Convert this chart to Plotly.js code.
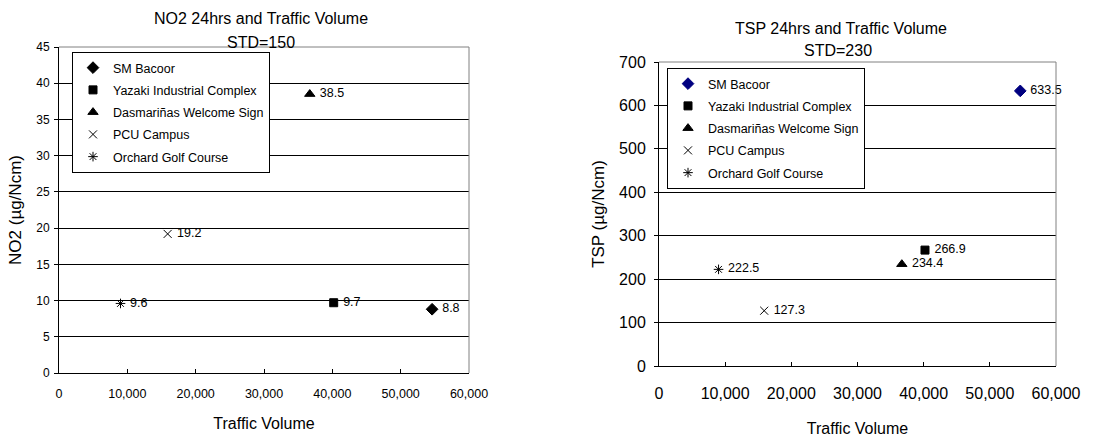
<!DOCTYPE html>
<html>
<head>
<meta charset="utf-8">
<script src="https://cdn.plot.ly/plotly-3.0.1.min.js"></script>
<style>html,body{margin:0;padding:0;background:#fff}#chart{width:1120px;height:437px}</style>
</head>
<body>
<div id="chart"></div>
<script>
const sites = ['SM Bacoor', 'Yazaki Industrial Complex', 'Dasmariñas Welcome Sign', 'PCU Campus', 'Orchard Golf Course'];
const trafficVolume = [54600, 40200, 36700, 15900, 9000];
const no2Values = [8.8, 9.7, 38.5, 19.2, 9.6];
const tspValues = [633.5, 266.9, 234.4, 127.3, 222.5];
const markerSymbols = ['diamond', 'square', 'triangle-up', 'x-thin-open', 'asterisk-open'];
const markerSizes = [9, 8, 9, 8, 8];
const no2Colors = ['#000000', '#000000', '#000000', '#000000', '#000000'];
const tspColors = ['#000080', '#000000', '#000000', '#000000', '#000000'];
const xTickVals = [0, 10000, 20000, 30000, 40000, 50000, 60000];

const FONT = 'Liberation Sans, Arial, sans-serif';
const W = 1120, H = 437;

const traces = [];
sites.forEach((s, i) => {
  traces.push({
    type: 'scatter', mode: 'markers+text',
    x: [trafficVolume[i]], y: [no2Values[i]],
    text: [' ' + no2Values[i]], textposition: 'middle right',
    textfont: {family: FONT, size: 12.5, color: '#000'},
    name: s, legend: 'legend', legendgroup: 'a' + i,
    marker: {symbol: markerSymbols[i], size: markerSizes[i], color: no2Colors[i], line: {color: no2Colors[i], width: 1}},
    xaxis: 'x', yaxis: 'y', cliponaxis: false, hoverinfo: 'x+y+name'
  });
});
sites.forEach((s, i) => {
  traces.push({
    type: 'scatter', mode: 'markers+text',
    x: [trafficVolume[i]], y: [tspValues[i]],
    text: [' ' + tspValues[i]], textposition: 'middle right',
    textfont: {family: FONT, size: 12.5, color: '#000'},
    name: s, legend: 'legend2', legendgroup: 'b' + i,
    marker: {symbol: markerSymbols[i], size: markerSizes[i], color: tspColors[i], line: {color: tspColors[i], width: 1}},
    xaxis: 'x2', yaxis: 'y2', cliponaxis: false, hoverinfo: 'x+y+name'
  });
});

function px(x) { return x / W; }
function py(y) { return 1 - y / H; }

const axBase = {
  showline: true, linecolor: '#000', linewidth: 1, zeroline: false,
  color: '#000', fixedrange: true
};

const layout = {
  width: W, height: H,
  margin: {l: 0, r: 0, t: 0, b: 0},
  paper_bgcolor: '#fff', plot_bgcolor: '#fff',
  font: {family: FONT, color: '#000'},
  showlegend: true,
  xaxis: Object.assign({}, axBase, {
    domain: [px(59), px(469)], anchor: 'y', range: [0, 60000],
    tickvals: xTickVals, tickformat: ',d', showgrid: false,
    ticks: 'inside', ticklen: 4, tickcolor: '#000',
    tickfont: {family: FONT, size: 12.5}, ticklabelstandoff: 9,
    title: {text: 'Traffic Volume', font: {family: FONT, size: 16}, standoff: 17}
  }),
  yaxis: Object.assign({}, axBase, {
    domain: [py(373), py(47)], anchor: 'x', range: [0, 45], dtick: 5,
    showgrid: true, gridcolor: '#000', gridwidth: 1,
    ticks: 'outside', ticklen: 4, tickcolor: '#000',
    tickfont: {family: FONT, size: 12}, ticklabelstandoff: 2,
    title: {text: 'NO2 (µg/Ncm)', font: {family: FONT, size: 17}, standoff: 10}
  }),
  xaxis2: Object.assign({}, axBase, {
    domain: [px(659), px(1056)], anchor: 'y2', range: [0, 60000],
    tickvals: xTickVals, tickformat: ',d', showgrid: false,
    ticks: 'inside', ticklen: 4, tickcolor: '#000',
    tickfont: {family: FONT, size: 16}, ticklabelstandoff: 13,
    title: {text: 'Traffic Volume', font: {family: FONT, size: 16}, standoff: 22}
  }),
  yaxis2: Object.assign({}, axBase, {
    domain: [py(366), py(62)], anchor: 'x2', range: [0, 700], dtick: 100,
    showgrid: true, gridcolor: '#000', gridwidth: 1,
    ticks: 'outside', ticklen: 4, tickcolor: '#000',
    tickfont: {family: FONT, size: 16}, ticklabelstandoff: 5,
    title: {text: 'TSP (µg/Ncm)', font: {family: FONT, size: 17}, standoff: 10}
  }),
  legend: {
    x: px(72), y: py(52), xanchor: 'left', yanchor: 'top',
    bgcolor: '#fff', bordercolor: '#000', borderwidth: 1,
    font: {family: FONT, size: 12.5, color: '#000'},
    tracegroupgap: 3, traceorder: 'grouped', itemwidth: 30
  },
  legend2: {
    x: px(667), y: py(68), xanchor: 'left', yanchor: 'top',
    bgcolor: '#fff', bordercolor: '#000', borderwidth: 1,
    font: {family: FONT, size: 12.5, color: '#000'},
    tracegroupgap: 3, traceorder: 'grouped', itemwidth: 30
  },
  shapes: [
    {type: 'line', xref: 'x domain', yref: 'y domain', x0: 0, x1: 1, y0: 1, y1: 1, line: {color: '#808080', width: 1}, layer: 'above'},
    {type: 'line', xref: 'x domain', yref: 'y domain', x0: 1, x1: 1, y0: 0, y1: 1, line: {color: '#808080', width: 1}, layer: 'above'},
    {type: 'line', xref: 'x2 domain', yref: 'y2 domain', x0: 0, x1: 1, y0: 1, y1: 1, line: {color: '#808080', width: 1}, layer: 'above'},
    {type: 'line', xref: 'x2 domain', yref: 'y2 domain', x0: 1, x1: 1, y0: 0, y1: 1, line: {color: '#808080', width: 1}, layer: 'above'}
  ],
  annotations: [
    {text: 'NO2 24hrs and Traffic Volume', xref: 'paper', yref: 'paper', x: px(261), y: py(19), xanchor: 'center', yanchor: 'middle', showarrow: false, font: {family: FONT, size: 16, color: '#000'}},
    {text: 'STD=150', xref: 'paper', yref: 'paper', x: px(261), y: py(42), xanchor: 'center', yanchor: 'middle', showarrow: false, font: {family: FONT, size: 16, color: '#000'}},
    {text: 'TSP 24hrs and Traffic Volume', xref: 'paper', yref: 'paper', x: px(841), y: py(28), xanchor: 'center', yanchor: 'middle', showarrow: false, font: {family: FONT, size: 16, color: '#000'}},
    {text: 'STD=230', xref: 'paper', yref: 'paper', x: px(838), y: py(51), xanchor: 'center', yanchor: 'middle', showarrow: false, font: {family: FONT, size: 16, color: '#000'}}
  ]
};

Plotly.newPlot('chart', traces, layout, {displayModeBar: false, staticPlot: false});
</script>
</body>
</html>
